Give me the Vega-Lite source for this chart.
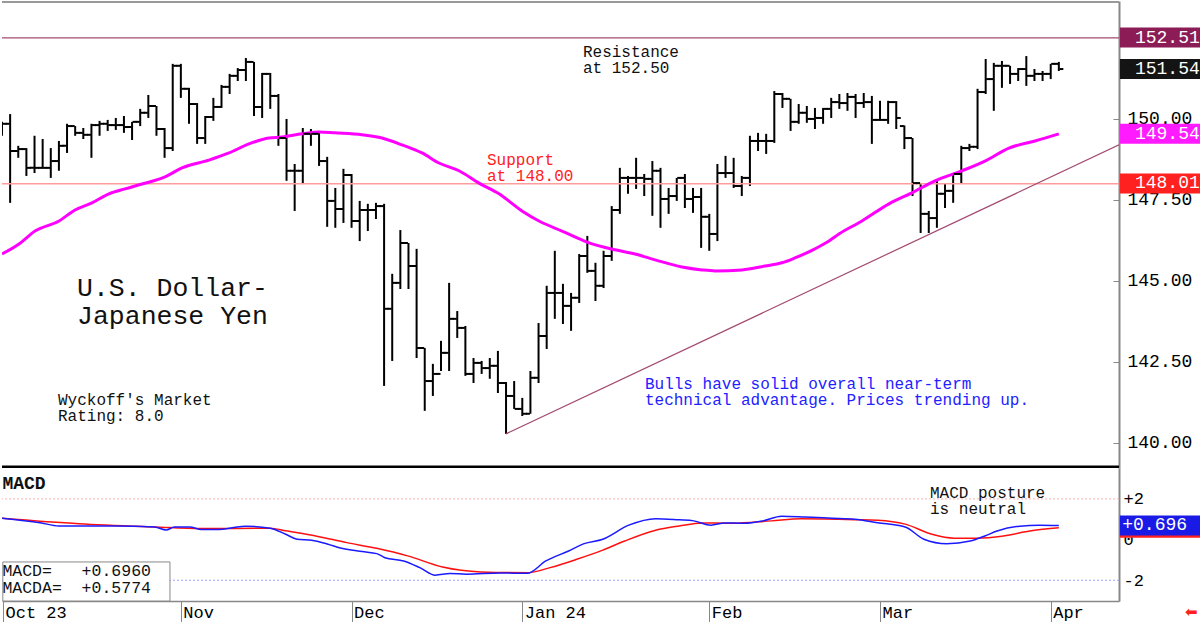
{
  "$schema": "https://vega.github.io/schema/vega-lite/v6.json",
  "padding": 0,
  "background": "white",
  "spacing": 0,
  "bounds": "flush",
  "config": {"font": "Liberation Mono", "view": {"stroke": null}},
  "resolve": {"scale": {"color": "independent"}},
  "datasets": {
    "bars": [
      {"i":0,"o":149.75,"h":149.91,"l":149.48,"c":149.85},
      {"i":1,"o":149.85,"h":150.15,"l":147.41,"c":149.01},
      {"i":2,"o":149.01,"h":149.17,"l":148.80,"c":149.07},
      {"i":3,"o":149.07,"h":149.10,"l":148.24,"c":148.49},
      {"i":4,"o":148.49,"h":149.48,"l":148.33,"c":148.49},
      {"i":5,"o":148.49,"h":149.38,"l":148.46,"c":148.49},
      {"i":6,"o":148.49,"h":149.10,"l":148.18,"c":148.70},
      {"i":7,"o":148.70,"h":149.32,"l":148.40,"c":149.17},
      {"i":8,"o":149.17,"h":149.85,"l":148.95,"c":149.78},
      {"i":9,"o":149.78,"h":149.78,"l":149.48,"c":149.57},
      {"i":10,"o":149.57,"h":149.72,"l":149.38,"c":149.51},
      {"i":11,"o":149.51,"h":149.85,"l":148.80,"c":149.81},
      {"i":12,"o":149.81,"h":149.94,"l":149.48,"c":149.85},
      {"i":13,"o":149.85,"h":149.97,"l":149.63,"c":149.81},
      {"i":14,"o":149.81,"h":150.03,"l":149.66,"c":149.81},
      {"i":15,"o":149.81,"h":150.09,"l":149.57,"c":149.75},
      {"i":16,"o":149.75,"h":149.91,"l":149.35,"c":149.91},
      {"i":17,"o":149.91,"h":150.31,"l":149.78,"c":150.19},
      {"i":18,"o":150.19,"h":150.74,"l":150.03,"c":150.40},
      {"i":19,"o":150.40,"h":150.40,"l":149.48,"c":149.69},
      {"i":20,"o":149.69,"h":149.72,"l":148.80,"c":149.10},
      {"i":21,"o":149.10,"h":151.70,"l":149.01,"c":151.64},
      {"i":22,"o":151.64,"h":151.70,"l":150.65,"c":150.93},
      {"i":23,"o":150.93,"h":150.96,"l":149.85,"c":150.46},
      {"i":24,"o":150.46,"h":150.49,"l":149.23,"c":149.41},
      {"i":25,"o":149.41,"h":150.09,"l":149.23,"c":150.06},
      {"i":26,"o":150.06,"h":150.65,"l":149.94,"c":150.37},
      {"i":27,"o":150.37,"h":151.05,"l":150.34,"c":150.99},
      {"i":28,"o":150.99,"h":151.39,"l":150.77,"c":151.33},
      {"i":29,"o":151.33,"h":151.57,"l":151.17,"c":151.51},
      {"i":30,"o":151.51,"h":151.88,"l":151.17,"c":151.76},
      {"i":31,"o":151.76,"h":151.76,"l":150.09,"c":150.37},
      {"i":32,"o":150.37,"h":151.42,"l":150.03,"c":151.39},
      {"i":33,"o":151.39,"h":151.42,"l":150.31,"c":150.71},
      {"i":34,"o":150.71,"h":150.77,"l":149.17,"c":149.41},
      {"i":35,"o":149.41,"h":150.00,"l":148.09,"c":148.40},
      {"i":36,"o":148.40,"h":148.61,"l":147.16,"c":148.40},
      {"i":37,"o":148.40,"h":149.72,"l":147.99,"c":149.54},
      {"i":38,"o":149.54,"h":149.69,"l":149.17,"c":149.54},
      {"i":39,"o":149.54,"h":149.63,"l":148.55,"c":148.70},
      {"i":40,"o":148.70,"h":148.83,"l":146.67,"c":147.47},
      {"i":41,"o":147.47,"h":147.87,"l":146.64,"c":147.22},
      {"i":42,"o":147.22,"h":148.46,"l":146.79,"c":148.27},
      {"i":43,"o":148.27,"h":148.30,"l":146.64,"c":146.85},
      {"i":44,"o":146.85,"h":147.47,"l":146.23,"c":147.19},
      {"i":45,"o":147.19,"h":147.38,"l":146.54,"c":147.19},
      {"i":46,"o":147.19,"h":147.41,"l":146.91,"c":147.31},
      {"i":47,"o":147.31,"h":147.38,"l":141.76,"c":144.14},
      {"i":48,"o":144.14,"h":145.22,"l":142.53,"c":144.94},
      {"i":49,"o":144.94,"h":146.57,"l":144.75,"c":146.17},
      {"i":50,"o":146.17,"h":146.17,"l":144.75,"c":145.46},
      {"i":51,"o":145.46,"h":145.99,"l":142.62,"c":142.93},
      {"i":52,"o":142.93,"h":142.93,"l":140.99,"c":141.91},
      {"i":53,"o":141.91,"h":142.44,"l":141.45,"c":142.13},
      {"i":54,"o":142.13,"h":143.15,"l":142.22,"c":142.78},
      {"i":55,"o":142.78,"h":144.94,"l":142.22,"c":143.83},
      {"i":56,"o":143.83,"h":144.07,"l":143.24,"c":143.55},
      {"i":57,"o":143.55,"h":143.61,"l":142.07,"c":142.13},
      {"i":58,"o":142.13,"h":142.62,"l":141.85,"c":142.47},
      {"i":59,"o":142.47,"h":142.53,"l":142.13,"c":142.31},
      {"i":60,"o":142.31,"h":142.62,"l":141.98,"c":142.38},
      {"i":61,"o":142.38,"h":142.84,"l":141.54,"c":141.85},
      {"i":62,"o":141.85,"h":141.88,"l":140.28,"c":141.45},
      {"i":63,"o":141.45,"h":141.91,"l":141.05,"c":141.05},
      {"i":64,"o":141.05,"h":141.39,"l":140.83,"c":140.90},
      {"i":65,"o":140.90,"h":142.22,"l":140.90,"c":142.01},
      {"i":66,"o":142.01,"h":143.70,"l":141.85,"c":143.30},
      {"i":67,"o":143.30,"h":144.85,"l":142.90,"c":144.63},
      {"i":68,"o":144.63,"h":145.93,"l":143.83,"c":144.63},
      {"i":69,"o":144.63,"h":144.91,"l":143.67,"c":144.23},
      {"i":70,"o":144.23,"h":144.63,"l":143.46,"c":144.48},
      {"i":71,"o":144.48,"h":145.83,"l":144.32,"c":145.77},
      {"i":72,"o":145.77,"h":146.39,"l":145.25,"c":145.31},
      {"i":73,"o":145.31,"h":145.56,"l":144.38,"c":144.85},
      {"i":74,"o":144.85,"h":145.93,"l":144.78,"c":145.77},
      {"i":75,"o":145.77,"h":147.31,"l":145.62,"c":147.19},
      {"i":76,"o":147.19,"h":148.49,"l":147.07,"c":148.18},
      {"i":77,"o":148.18,"h":148.24,"l":147.69,"c":148.18},
      {"i":78,"o":148.18,"h":148.80,"l":147.84,"c":148.18},
      {"i":79,"o":148.18,"h":148.30,"l":147.62,"c":148.15},
      {"i":80,"o":148.15,"h":148.70,"l":147.01,"c":148.40},
      {"i":81,"o":148.40,"h":148.49,"l":146.64,"c":147.53},
      {"i":82,"o":147.53,"h":147.87,"l":147.07,"c":147.62},
      {"i":83,"o":147.62,"h":148.18,"l":147.47,"c":148.18},
      {"i":84,"o":148.18,"h":148.30,"l":147.25,"c":147.53},
      {"i":85,"o":147.53,"h":147.87,"l":147.10,"c":147.59},
      {"i":86,"o":147.59,"h":147.87,"l":146.02,"c":146.98},
      {"i":87,"o":146.98,"h":147.07,"l":145.93,"c":146.45},
      {"i":88,"o":146.45,"h":148.61,"l":146.23,"c":148.33},
      {"i":89,"o":148.33,"h":148.86,"l":148.18,"c":148.33},
      {"i":90,"o":148.33,"h":148.80,"l":147.87,"c":147.93},
      {"i":91,"o":147.93,"h":148.24,"l":147.62,"c":148.18},
      {"i":92,"o":148.18,"h":149.48,"l":147.93,"c":149.32},
      {"i":93,"o":149.32,"h":149.57,"l":149.01,"c":149.32},
      {"i":94,"o":149.32,"h":149.54,"l":148.92,"c":149.32},
      {"i":95,"o":149.32,"h":150.86,"l":149.26,"c":150.77},
      {"i":96,"o":150.77,"h":150.80,"l":150.34,"c":150.62},
      {"i":97,"o":150.62,"h":150.62,"l":149.63,"c":149.91},
      {"i":98,"o":149.91,"h":150.46,"l":149.85,"c":150.19},
      {"i":99,"o":150.19,"h":150.40,"l":149.88,"c":150.00},
      {"i":100,"o":150.00,"h":150.34,"l":149.69,"c":150.03},
      {"i":101,"o":150.03,"h":150.34,"l":149.85,"c":150.31},
      {"i":102,"o":150.31,"h":150.65,"l":150.03,"c":150.52},
      {"i":103,"o":150.52,"h":150.77,"l":150.31,"c":150.49},
      {"i":104,"o":150.49,"h":150.80,"l":150.25,"c":150.68},
      {"i":105,"o":150.68,"h":150.77,"l":150.03,"c":150.49},
      {"i":106,"o":150.49,"h":150.80,"l":150.34,"c":150.52},
      {"i":107,"o":150.52,"h":150.71,"l":149.23,"c":149.97},
      {"i":108,"o":149.97,"h":150.56,"l":149.94,"c":149.97},
      {"i":109,"o":149.97,"h":150.56,"l":149.85,"c":150.52},
      {"i":110,"o":150.52,"h":150.55,"l":149.69,"c":150.03},
      {"i":111,"o":149.78,"h":149.80,"l":149.07,"c":149.41},
      {"i":112,"o":149.41,"h":149.41,"l":147.62,"c":148.02},
      {"i":113,"o":148.02,"h":148.02,"l":146.48,"c":147.07},
      {"i":114,"o":147.07,"h":147.16,"l":146.48,"c":146.94},
      {"i":115,"o":146.94,"h":148.09,"l":146.64,"c":147.69},
      {"i":116,"o":147.69,"h":148.02,"l":147.25,"c":147.78},
      {"i":117,"o":147.78,"h":148.33,"l":147.41,"c":148.30},
      {"i":118,"o":148.30,"h":149.17,"l":148.02,"c":149.10},
      {"i":119,"o":149.10,"h":149.23,"l":149.01,"c":149.14},
      {"i":120,"o":149.14,"h":150.93,"l":149.07,"c":150.83},
      {"i":121,"o":150.83,"h":151.85,"l":150.77,"c":151.23},
      {"i":122,"o":151.23,"h":151.73,"l":150.25,"c":151.64},
      {"i":123,"o":151.64,"h":151.79,"l":150.96,"c":151.64},
      {"i":124,"o":151.64,"h":151.64,"l":151.08,"c":151.39},
      {"i":125,"o":151.39,"h":151.57,"l":151.17,"c":151.54},
      {"i":126,"o":151.54,"h":151.94,"l":151.02,"c":151.33},
      {"i":127,"o":151.33,"h":151.54,"l":151.17,"c":151.39},
      {"i":128,"o":151.39,"h":151.48,"l":151.17,"c":151.39},
      {"i":129,"o":151.39,"h":151.70,"l":151.23,"c":151.70},
      {"i":130,"o":151.70,"h":151.76,"l":151.48,"c":151.54}
    ],
    "ma": [
      {"i":0,"v":145.83},{"i":2.09,"v":146.14},{"i":4.06,"v":146.54},{"i":7.01,"v":146.85},{"i":8.98,"v":147.19},
      {"i":11.07,"v":147.41},{"i":13.16,"v":147.69},{"i":15.13,"v":147.84},{"i":17.22,"v":147.99},{"i":20.05,"v":148.21},
      {"i":22.14,"v":148.49},{"i":25.46,"v":148.73},{"i":27.92,"v":148.95},{"i":30.38,"v":149.23},{"i":32.84,"v":149.41},
      {"i":34.44,"v":149.44},{"i":36.9,"v":149.54},{"i":38.99,"v":149.6},{"i":40.96,"v":149.57},{"i":44.28,"v":149.51},
      {"i":46.74,"v":149.41},{"i":49.2,"v":149.2},{"i":51.66,"v":148.95},{"i":53.75,"v":148.64},{"i":56.21,"v":148.4},
      {"i":58.67,"v":148.02},{"i":61.13,"v":147.69},{"i":63.96,"v":147.16},{"i":66.05,"v":146.85},{"i":68.88,"v":146.54},
      {"i":71.96,"v":146.2},{"i":75.4,"v":145.96},{"i":77.86,"v":145.83},{"i":80.32,"v":145.65},{"i":83.64,"v":145.43},
      {"i":86.1,"v":145.34},{"i":87.7,"v":145.31},{"i":91.02,"v":145.34},{"i":93.85,"v":145.46},{"i":95.94,"v":145.56},
      {"i":97.54,"v":145.71},{"i":100,"v":145.99},{"i":101.72,"v":146.23},{"i":102.95,"v":146.45},{"i":105.78,"v":146.85},
      {"i":109.1,"v":147.38},{"i":111.93,"v":147.72},{"i":114.76,"v":148.09},{"i":118.08,"v":148.4},{"i":120.91,"v":148.7},
      {"i":123.86,"v":149.1},{"i":127.06,"v":149.32},{"i":130,"v":149.54}
    ],
    "trend": [{"i":62,"v":140.28},{"i":137.4,"v":149.2}],
    "tags": [
      {"name":"Resistance","v":152.51},
      {"name":"Last","v":151.54},
      {"name":"MA","v":149.54},
      {"name":"Support","v":148.01}
    ],
    "macdtags": [
      {"name":"MACDA","v":0.577},
      {"name":"MACD","v":0.696}
    ],
    "macd": [
      {"i":0,"v":1.05},{"i":4.67,"v":0.83},{"i":7,"v":0.67},{"i":9.47,"v":0.67},{"i":14.1,"v":0.67},
      {"i":18.8,"v":0.62},{"i":20.2,"v":0.47},{"i":21.2,"v":0.62},{"i":23.1,"v":0.62},{"i":24.5,"v":0.49},
      {"i":26.4,"v":0.49},{"i":29.9,"v":0.66},{"i":33,"v":0.56},{"i":34.9,"v":0.26},{"i":36.3,"v":0.02},
      {"i":38.1,"v":-0.03},{"i":40.1,"v":-0.23},{"i":41.5,"v":-0.4},{"i":44.3,"v":-0.59},{"i":46.1,"v":-0.69},
      {"i":47.1,"v":-0.89},{"i":49.4,"v":-1.05},{"i":51.4,"v":-1.38},{"i":53.3,"v":-1.75},{"i":55.1,"v":-1.67},
      {"i":57.1,"v":-1.7},{"i":61.3,"v":-1.64},{"i":64.6,"v":-1.66},{"i":66.9,"v":-1.05},{"i":69.7,"v":-0.56},
      {"i":71.6,"v":-0.2},{"i":73.9,"v":0.02},{"i":77.1,"v":0.71},{"i":80.4,"v":1.03},{"i":83.3,"v":0.97},
      {"i":85.1,"v":0.92},{"i":87.2,"v":0.71},{"i":88.9,"v":0.82},{"i":91.3,"v":0.8},{"i":93.6,"v":0.92},
      {"i":95.9,"v":1.15},{"i":98.8,"v":1.11},{"i":102.1,"v":1.05},{"i":104.9,"v":1.0},{"i":107.7,"v":0.83},
      {"i":111.1,"v":0.62},{"i":113.4,"v":0.02},{"i":116.2,"v":-0.2},{"i":119.1,"v":-0.07},{"i":120.9,"v":0.18},
      {"i":122.4,"v":0.42},{"i":125.2,"v":0.66},{"i":127.6,"v":0.71},{"i":130,"v":0.696}
    ],
    "signal": [
      {"i":0,"v":1.05},{"i":9.47,"v":0.78},{"i":18.8,"v":0.62},{"i":24.5,"v":0.54},{"i":33,"v":0.56},
      {"i":34.9,"v":0.43},{"i":38.6,"v":0.18},{"i":42.4,"v":-0.15},{"i":46.1,"v":-0.43},{"i":49.9,"v":-0.8},
      {"i":54.2,"v":-1.35},{"i":58.9,"v":-1.59},{"i":64.6,"v":-1.63},{"i":67.4,"v":-1.38},{"i":70.7,"v":-0.97},
      {"i":73.9,"v":-0.52},{"i":76.6,"v":-0.07},{"i":80.4,"v":0.46},{"i":83.3,"v":0.67},{"i":86.1,"v":0.82},
      {"i":89.8,"v":0.8},{"i":94.6,"v":0.92},{"i":98.3,"v":1.02},{"i":104.9,"v":0.98},{"i":107.7,"v":0.95},
      {"i":111.1,"v":0.76},{"i":114.4,"v":0.26},{"i":117.1,"v":0.07},{"i":119.9,"v":0.07},{"i":123.2,"v":0.18},
      {"i":126.6,"v":0.43},{"i":130,"v":0.577}
    ]
  },
  "vconcat": [
    {
      "width": 1117,
      "height": 467,
      "resolve": {"axis": {"x": "independent", "y": "independent"}},
      "layer": [
        {
          "data": {"name": "bars"},
          "mark": {"type": "rule", "color": "#000000", "strokeWidth": 2, "clip": true},
          "encoding": {
            "x": {"field": "i", "type": "quantitative", "scale": {"domain": [0, 137.4], "nice": false, "zero": false}, "axis": null},
            "y": {"field": "l", "type": "quantitative", "scale": {"domain": [139.226, 153.64], "nice": false, "zero": false},
              "axis": {"orient": "right", "values": [140, 142.5, 145, 147.5, 150], "format": ".2f", "title": null, "grid": false,
                "labelFont": "Liberation Mono", "labelFontSize": 18, "labelColor": "#000000", "labelPadding": 14,
                "ticks": true, "tickSize": -6, "tickColor": "#888888", "domainColor": "#888888", "domainWidth": 2, "labelAlign": "left"}},
            "y2": {"field": "h"}
          }
        },
        {
          "data": {"values": [{}]},
          "mark": {"type": "rule", "color": "#999999", "strokeWidth": 2},
          "encoding": {"y": {"datum": 153.61, "type": "quantitative", "axis": null}}
        },
        {
          "data": {"values": [{}]},
          "mark": {"type": "rule", "color": "#a34a70", "strokeWidth": 1.2},
          "encoding": {"y": {"datum": 152.5, "type": "quantitative", "axis": null}}
        },
        {
          "data": {"values": [{}]},
          "mark": {"type": "rule", "color": "#ff9c9c", "strokeWidth": 1.5},
          "encoding": {"y": {"datum": 148.0, "type": "quantitative", "axis": null}}
        },
        {
          "data": {"values": [{}]},
          "mark": {"type": "rule", "color": "#000000", "strokeWidth": 2.5},
          "encoding": {"y": {"datum": 139.265, "type": "quantitative", "axis": null}}
        },
        {
          "data": {"name": "trend"},
          "mark": {"type": "line", "color": "#a34a70", "strokeWidth": 1.2, "clip": true},
          "encoding": {
            "x": {"field": "i", "type": "quantitative", "axis": null},
            "y": {"field": "v", "type": "quantitative", "axis": null}
          }
        },
        {
          "data": {"name": "ma"},
          "mark": {"type": "line", "color": "#ff00ff", "strokeWidth": 3, "clip": true, "interpolate": "monotone"},
          "encoding": {
            "x": {"field": "i", "type": "quantitative", "axis": null},
            "y": {"field": "v", "type": "quantitative", "axis": null}
          }
        },
        {
          "data": {"name": "bars"},
          "mark": {"type": "tick", "orient": "horizontal", "color": "#000000", "size": 4, "thickness": 2, "xOffset": -2.5, "opacity": 1, "clip": true},
          "encoding": {
            "x": {"field": "i", "type": "quantitative", "axis": null},
            "y": {"field": "o", "type": "quantitative", "axis": null}
          }
        },
        {
          "data": {"name": "bars"},
          "mark": {"type": "tick", "orient": "horizontal", "color": "#000000", "size": 4, "thickness": 2, "xOffset": 2.5, "opacity": 1, "clip": true},
          "encoding": {
            "x": {"field": "i", "type": "quantitative", "axis": null},
            "y": {"field": "c", "type": "quantitative", "axis": null}
          }
        },
        {
          "data": {"values": [{}]},
          "mark": {"type": "text", "align": "left", "baseline": "alphabetic", "fontSize": 16, "lineHeight": 16, "color": "#111111", "font": "Liberation Mono"},
          "encoding": {
            "x": {"datum": 71.46, "type": "quantitative", "axis": null},
            "y": {"datum": 151.91, "type": "quantitative", "axis": null},
            "text": {"value": ["Resistance", "at 152.50"]}
          }
        },
        {
          "data": {"values": [{}]},
          "mark": {"type": "text", "align": "left", "baseline": "alphabetic", "fontSize": 16, "lineHeight": 16, "color": "#ff2222", "font": "Liberation Mono"},
          "encoding": {
            "x": {"datum": 59.66, "type": "quantitative", "axis": null},
            "y": {"datum": 148.58, "type": "quantitative", "axis": null},
            "text": {"value": ["Support", "at 148.00"]}
          }
        },
        {
          "data": {"values": [{}]},
          "mark": {"type": "text", "align": "left", "baseline": "alphabetic", "fontSize": 26.5, "lineHeight": 28, "color": "#111111", "font": "Liberation Mono"},
          "encoding": {
            "x": {"datum": 9.23, "type": "quantitative", "axis": null},
            "y": {"datum": 144.54, "type": "quantitative", "axis": null},
            "text": {"value": ["U.S. Dollar-", "Japanese Yen"]}
          }
        },
        {
          "data": {"values": [{}]},
          "mark": {"type": "text", "align": "left", "baseline": "alphabetic", "fontSize": 16, "lineHeight": 16, "color": "#111111", "font": "Liberation Mono"},
          "encoding": {
            "x": {"datum": 6.89, "type": "quantitative", "axis": null},
            "y": {"datum": 141.17, "type": "quantitative", "axis": null},
            "text": {"value": ["Wyckoff's Market", "Rating: 8.0"]}
          }
        },
        {
          "data": {"values": [{}]},
          "mark": {"type": "text", "align": "left", "baseline": "alphabetic", "fontSize": 16, "lineHeight": 16, "color": "#2222ff", "font": "Liberation Mono"},
          "encoding": {
            "x": {"datum": 79.09, "type": "quantitative", "axis": null},
            "y": {"datum": 141.67, "type": "quantitative", "axis": null},
            "text": {"value": ["Bulls have solid overall near-term", "technical advantage. Prices trending up."]}
          }
        },
        {
          "data": {"name": "tags"},
          "mark": {"type": "tick", "orient": "horizontal", "size": 82, "thickness": 20, "opacity": 1},
          "encoding": {
            "x": {"datum": 142.56, "type": "quantitative", "axis": null},
            "y": {"field": "v", "type": "quantitative", "axis": null},
            "color": {"field": "name", "type": "nominal", "legend": null,
              "scale": {"domain": ["Resistance", "Last", "MA", "Support"], "range": ["#8c1c55", "#141414", "#ff1aff", "#ff2020"]}}
          }
        },
        {
          "data": {"name": "tags"},
          "mark": {"type": "text", "align": "left", "baseline": "middle", "fontSize": 18, "color": "#ffffff", "font": "Liberation Mono"},
          "encoding": {
            "x": {"datum": 139.36, "type": "quantitative", "axis": null},
            "y": {"field": "v", "type": "quantitative", "axis": null},
            "text": {"field": "v", "type": "quantitative", "format": ".2f"}
          }
        }
      ]
    },
    {
      "width": 1117,
      "height": 133,
      "resolve": {"axis": {"x": "independent", "y": "independent"}},
      "layer": [
        {
          "data": {"values": [{}]},
          "mark": {"type": "rule", "color": "#ffb0b0", "strokeWidth": 1, "strokeDash": [2, 2]},
          "encoding": {
            "y": {"datum": 2, "type": "quantitative", "scale": {"domain": [-3.02, 3.52], "nice": false, "zero": false},
              "axis": {"orient": "right", "values": [-2, 0, 2], "title": null, "grid": false,
                "labelExpr": "datum.value > 0 ? '+' + datum.value : datum.value == 0 ? '0' : '-' + abs(datum.value)",
                "labelFont": "Liberation Mono", "labelFontSize": 17, "labelColor": "#000000", "labelPadding": 4,
                "ticks": false, "domainColor": "#888888", "domainWidth": 2, "labelAlign": "left"}}
          }
        },
        {
          "data": {"values": [{}]},
          "mark": {"type": "rule", "color": "#a0a0ff", "strokeWidth": 1, "strokeDash": [2, 2]},
          "encoding": {"y": {"datum": -2, "type": "quantitative", "axis": null}}
        },
        {
          "data": {"name": "signal"},
          "mark": {"type": "line", "color": "#ff1010", "strokeWidth": 1.5, "clip": true, "interpolate": "monotone"},
          "encoding": {
            "x": {"field": "i", "type": "quantitative", "scale": {"domain": [0, 137.4], "nice": false, "zero": false},
              "axis": {"orient": "bottom", "values": [0.12, 22, 43, 64, 87, 108, 129], "title": null, "grid": false,
                "labelExpr": "datum.value < 1 ? 'Oct 23' : datum.value == 22 ? 'Nov' : datum.value == 43 ? 'Dec' : datum.value == 64 ? 'Jan 24' : datum.value == 87 ? 'Feb' : datum.value == 108 ? 'Mar' : 'Apr'",
                "tickSize": 22, "tickColor": "#888888", "domainColor": "#888888", "domainWidth": 1.5,
                "labelAlign": "left", "labelBaseline": "top", "labelPadding": -19, "labelOffset": 2,
                "labelFont": "Liberation Mono", "labelFontSize": 17, "labelColor": "#000000", "labelFlush": false, "labelOverlap": false}},
            "y": {"field": "v", "type": "quantitative", "axis": null}
          }
        },
        {
          "data": {"name": "macd"},
          "mark": {"type": "line", "color": "#1a1aff", "strokeWidth": 1.5, "clip": true, "interpolate": "monotone"},
          "encoding": {
            "x": {"field": "i", "type": "quantitative", "axis": null},
            "y": {"field": "v", "type": "quantitative", "axis": null}
          }
        },
        {
          "data": {"values": [{}]},
          "mark": {"type": "rect", "fill": "#ffffff", "stroke": "#888888", "strokeWidth": 1},
          "encoding": {
            "x": {"datum": 0.1, "type": "quantitative", "axis": null},
            "x2": {"datum": 20.66},
            "y": {"datum": -3.02, "type": "quantitative", "axis": null},
            "y2": {"datum": -1.1}
          }
        },
        {
          "data": {"values": [{}]},
          "mark": {"type": "text", "align": "left", "baseline": "alphabetic", "fontSize": 16.5, "lineHeight": 17, "color": "#111111", "font": "Liberation Mono"},
          "encoding": {
            "x": {"datum": 0.05, "type": "quantitative", "axis": null},
            "y": {"datum": -1.77, "type": "quantitative", "axis": null},
            "text": {"value": ["MACD=\u00a0\u00a0\u00a0+0.6960", "MACDA=\u00a0\u00a0+0.5774"]}
          }
        },
        {
          "data": {"values": [{}]},
          "mark": {"type": "text", "align": "left", "baseline": "alphabetic", "fontSize": 18, "fontWeight": "bold", "color": "#111111", "font": "Liberation Mono"},
          "encoding": {
            "x": {"datum": 0.05, "type": "quantitative", "axis": null},
            "y": {"datum": 2.49, "type": "quantitative", "axis": null},
            "text": {"value": "MACD"}
          }
        },
        {
          "data": {"values": [{}]},
          "mark": {"type": "text", "align": "left", "baseline": "alphabetic", "fontSize": 16, "lineHeight": 16, "color": "#111111", "font": "Liberation Mono"},
          "encoding": {
            "x": {"datum": 114.15, "type": "quantitative", "axis": null},
            "y": {"datum": 2.05, "type": "quantitative", "axis": null},
            "text": {"value": ["MACD posture", "is neutral"]}
          }
        },
        {
          "data": {"name": "macdtags"},
          "mark": {"type": "tick", "orient": "horizontal", "size": 82, "thickness": 20, "opacity": 1},
          "encoding": {
            "x": {"datum": 142.56, "type": "quantitative", "axis": null},
            "y": {"field": "v", "type": "quantitative", "axis": null},
            "color": {"field": "name", "type": "nominal", "legend": null,
              "scale": {"domain": ["MACDA", "MACD"], "range": ["#ff2020", "#1a1ae6"]}}
          }
        },
        {
          "data": {"values": [{}]},
          "mark": {"type": "text", "align": "left", "baseline": "middle", "fontSize": 18, "color": "#ffffff", "font": "Liberation Mono"},
          "encoding": {
            "x": {"datum": 137.8, "type": "quantitative", "axis": null},
            "y": {"datum": 0.696, "type": "quantitative", "axis": null},
            "text": {"value": "+0.696"}
          }
        },
        {
          "data": {"values": [{}]},
          "mark": {"type": "text", "align": "center", "baseline": "middle", "fontSize": 15, "color": "#ff2020", "font": "DejaVu Sans"},
          "encoding": {
            "x": {"datum": 146.3, "type": "quantitative", "axis": null},
            "y": {"datum": -3.56, "type": "quantitative", "axis": null},
            "text": {"value": "⬅"}
          }
        }
      ]
    }
  ]
}
